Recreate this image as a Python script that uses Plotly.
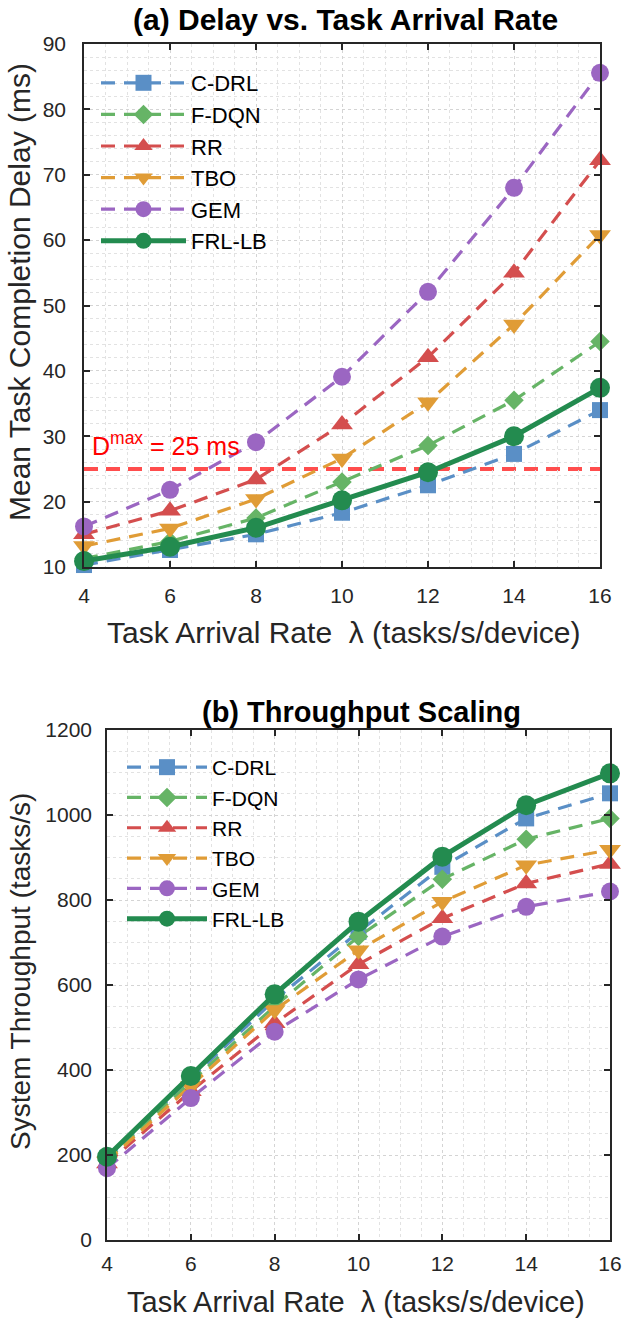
import plotly.graph_objects as go

W, H = 625, 1320

# ---------------- data ----------------
lam = [4, 6, 8, 10, 12, 14, 16]
methods = ["C-DRL", "F-DQN", "RR", "TBO", "GEM", "FRL-LB"]

delay_cdrl = [10.3, 12.6, 15.0, 18.3, 22.5, 27.3, 34.0]
delay_fdqn = [11.3, 13.9, 17.5, 23.0, 28.6, 35.5, 44.5]
delay_rr = [15.0, 18.6, 23.4, 31.8, 42.1, 55.0, 72.2]
delay_tbo = [13.2, 15.9, 20.4, 26.6, 35.2, 47.1, 60.8]
delay_gem = [16.2, 21.8, 29.1, 39.1, 52.1, 68.0, 85.6]
delay_frl = [10.9, 13.1, 16.0, 20.2, 24.5, 30.0, 37.4]

thr_cdrl = [192, 380, 565, 725, 878, 992, 1051]
thr_fdqn = [188, 372, 550, 714, 849, 943, 992]
thr_rr = [180, 350, 510, 649, 757, 839, 885]
thr_tbo = [185, 362, 541, 682, 796, 882, 918]
thr_gem = [169, 334, 490, 613, 714, 784, 820]
thr_frl = [196, 386, 578, 749, 902, 1023, 1098]

D_MAX = 25

delay_series = [delay_cdrl, delay_fdqn, delay_rr, delay_tbo, delay_gem, delay_frl]
thr_series = [thr_cdrl, thr_fdqn, thr_rr, thr_tbo, thr_gem, thr_frl]

# ---------------- styles ----------------
colors = ["#5a8fc6", "#66b466", "#d44e4e", "#e09c36", "#9b66c2", "#238b4f"]
symbols = ["square", "diamond", "triangle-up", "triangle-down", "circle", "circle"]
msizes = [16, 15, 19, 19, 18, 20]
FONT = "Liberation Sans, Arial, sans-serif"
TXT = "#262626"


def px(x):
    return x / W


def py(y):
    return 1 - y / H


fig = go.Figure()

for i, name in enumerate(methods):
    solid = name == "FRL-LB"
    line = dict(color=colors[i], width=5 if solid else 3.2,
                dash="solid" if solid else "14px,9px")
    marker = dict(symbol=symbols[i], size=msizes[i], color=colors[i], line=dict(width=0))
    fig.add_trace(go.Scatter(x=lam, y=delay_series[i], name=name, mode="lines+markers",
                             line=line, marker=marker, cliponaxis=False,
                             xaxis="x", yaxis="y", legend="legend"))
    fig.add_trace(go.Scatter(x=lam, y=thr_series[i], name=name, mode="lines+markers",
                             line=line, marker=marker, cliponaxis=False,
                             xaxis="x2", yaxis="y2", legend="legend2"))

# plot areas (page pixels)
T_L, T_R, T_T, T_B = 84, 600, 44, 567
B_L, B_R, B_T, B_B = 107, 610, 730, 1240

axis_common = dict(
    showline=True, linecolor=TXT, linewidth=1.5, mirror="ticks",
    ticks="inside", ticklen=6, tickwidth=1.5, tickcolor=TXT,
    showgrid=True, gridcolor="#d4d4d4", griddash="dot", gridwidth=1,
    zeroline=False, automargin=False, tickfont=dict(family=FONT, size=21, color=TXT),
)

fig.update_layout(
    width=W, height=H,
    margin=dict(l=0, r=0, t=0, b=0, autoexpand=False),
    paper_bgcolor="white", plot_bgcolor="white",
    font=dict(family=FONT, color=TXT),
    xaxis=dict(axis_common, domain=[px(T_L), px(T_R)], anchor="y", range=[4, 16],
               tickvals=lam, ticklabelstandoff=9,
               minor=dict(dtick=0.5, showgrid=True, gridcolor="#e2e2e2", griddash="dot", ticks="")),
    yaxis=dict(axis_common, domain=[py(T_B), py(T_T)], anchor="x", range=[10, 90],
               dtick=10, ticklabelstandoff=12,
               minor=dict(dtick=2, showgrid=True, gridcolor="#e2e2e2", griddash="dot", ticks="")),
    xaxis2=dict(axis_common, domain=[px(B_L), px(B_R)], anchor="y2", range=[4, 16],
                tickvals=lam, ticklabelstandoff=4,
                minor=dict(dtick=0.5, showgrid=True, gridcolor="#e2e2e2", griddash="dot", ticks="")),
    yaxis2=dict(axis_common, domain=[py(B_B), py(B_T)], anchor="x2", range=[0, 1200],
                dtick=200, ticklabelstandoff=9,
                minor=dict(dtick=50, showgrid=True, gridcolor="#e2e2e2", griddash="dot", ticks="")),
    legend=dict(x=px(96), y=py(62), xanchor="left", yanchor="top",
                bgcolor="rgba(0,0,0,0)", font=dict(family=FONT, size=22, color="black"),
                itemwidth=85, tracegroupgap=0),
    legend2=dict(x=px(122), y=py(747), xanchor="left", yanchor="top",
                 bgcolor="rgba(0,0,0,0)", font=dict(family=FONT, size=21, color="black"),
                 itemwidth=80, tracegroupgap=0),
    showlegend=True,
)

# D_max threshold line
fig.add_shape(type="line", xref="x domain", yref="y", x0=0, x1=1, y0=D_MAX, y1=D_MAX,
              line=dict(color="#ff4d4d", width=4, dash="14px,8px"), layer="below")
fig.add_annotation(x=lam[0], y=D_MAX, xref="x", yref="y", xanchor="left", yanchor="bottom",
                   xshift=6, yshift=7, showarrow=False,
                   text="D<sup>max</sup> = 25 ms", font=dict(family=FONT, size=25, color="#ff0000"))

# titles and axis labels as annotations
ann = [
    dict(text="<b>(a) Delay vs. Task Arrival Rate</b>", x=px(345), y=py(19), size=30),
    dict(text="<b>(b) Throughput Scaling</b>", x=px(361), y=py(712), size=29),
    dict(text="Task Arrival Rate  λ (tasks/s/device)", x=px(343), y=py(632), size=30),
    dict(text="Task Arrival Rate  λ (tasks/s/device)", x=px(356), y=py(1302), size=29),
]
for a in ann:
    fig.add_annotation(text=a["text"], x=a["x"], y=a["y"], xref="paper", yref="paper",
                       xanchor="center", yanchor="middle", showarrow=False,
                       font=dict(family=FONT, size=a["size"], color="black" if "<b>" in a["text"] else TXT))
fig.add_annotation(text="Mean Task Completion Delay (ms)", x=px(19), y=py(292),
                   xref="paper", yref="paper", textangle=-90, showarrow=False,
                   xanchor="center", yanchor="middle", font=dict(family=FONT, size=30, color=TXT))
fig.add_annotation(text="System Throughput (tasks/s)", x=px(20), y=py(972),
                   xref="paper", yref="paper", textangle=-90, showarrow=False,
                   xanchor="center", yanchor="middle", font=dict(family=FONT, size=28, color=TXT))

fig.write_html(
    "out.html",
    config={"displayModeBar": False},
    post_script="document.body.style.margin='0';document.body.style.overflow='hidden';",
)
